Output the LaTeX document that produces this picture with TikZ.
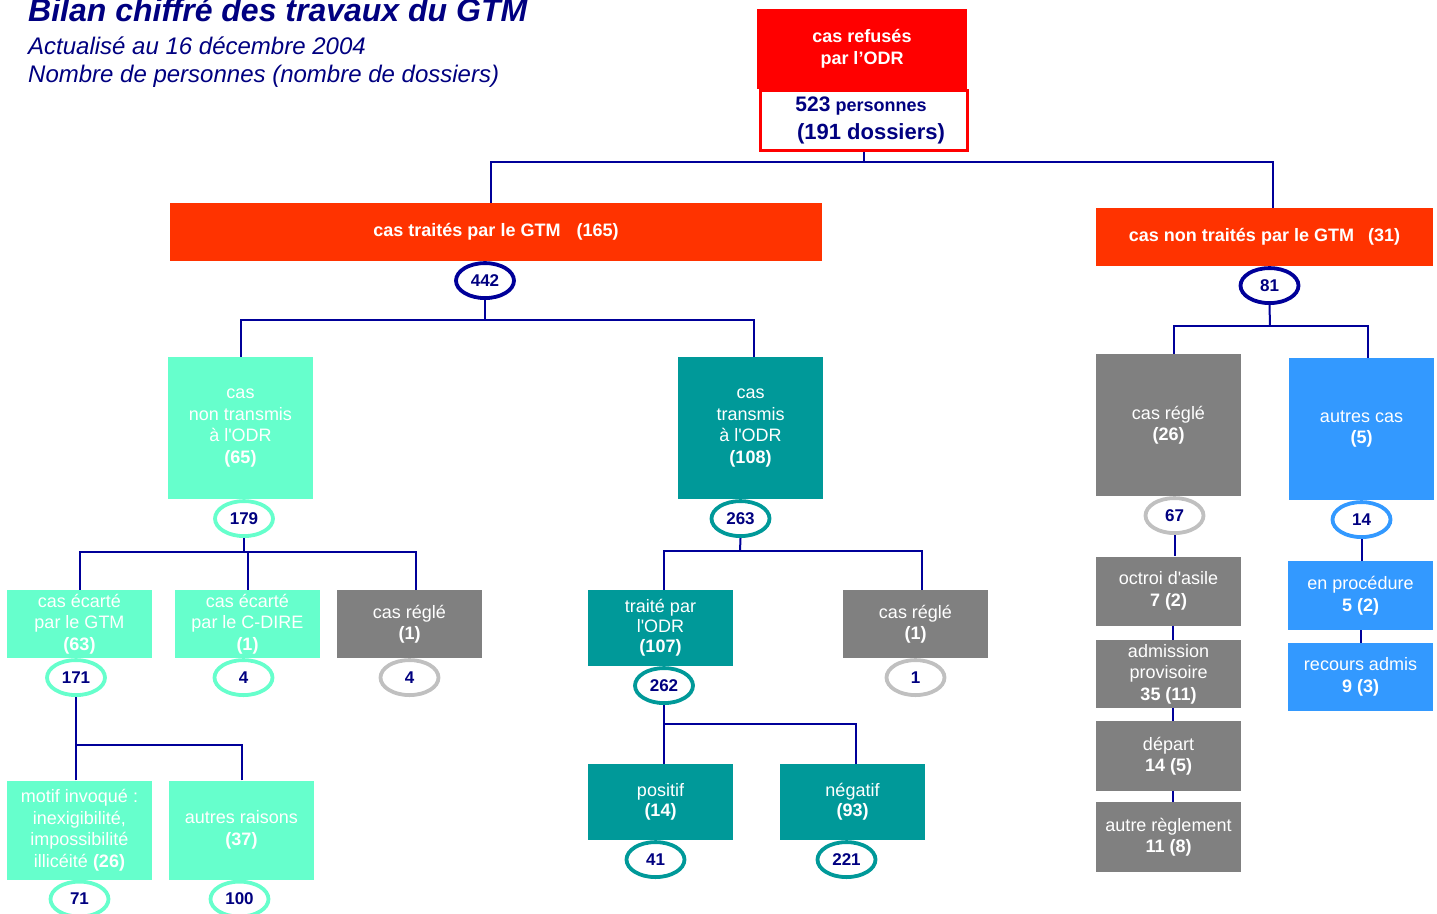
\documentclass[tikz,border=0pt]{standalone}
\usepackage{fontspec}
\setmainfont{Liberation Sans}
\usepackage{tikz}
\usetikzlibrary{positioning,shapes.geometric}

\definecolor{gtmnavy}{HTML}{000080}
\definecolor{gtmline}{HTML}{000099}
\definecolor{gtmred}{HTML}{FF0000}
\definecolor{gtmorange}{HTML}{FF3300}
\definecolor{gtmaqua}{HTML}{66FFCC}
\definecolor{gtmteal}{HTML}{009999}
\definecolor{gtmgrey}{HTML}{808080}
\definecolor{gtmsilver}{HTML}{C0C0C0}
\definecolor{gtmblue}{HTML}{3399FF}

\begin{document}
\begin{tikzpicture}[
    x=1pt, y=-1pt,
    gtmbox/.style={minimum width=145pt, minimum height=68pt, align=center, text=white, inner sep=2pt, font=\fontsize{18}{21.5}\selectfont},
    aquabox/.style={gtmbox, fill=gtmaqua},
    tealbox/.style={gtmbox, fill=gtmteal},
    greybox/.style={gtmbox, fill=gtmgrey},
    bluebox/.style={gtmbox, fill=gtmblue},
    headbox/.style={minimum height=58pt, text=white, fill=gtmorange, font=\bfseries\fontsize{18}{21.5}\selectfont},
    tally/.style={ellipse, draw, fill=white, line width=3.8pt, minimum width=58pt, minimum height=35pt, inner sep=0pt, text=gtmnavy, font=\bfseries\fontsize{17}{20}\selectfont, below=0pt of #1},
    link/.style={draw=gtmline, line width=2pt}
]
\useasboundingbox (0,0) rectangle (1437,913);

% Title
\node[anchor=base west, inner sep=0pt, text=gtmnavy, font=\bfseries\itshape\fontsize{32}{36}\selectfont] (title) at (28,21) {Bilan chiffré des travaux du GTM};
\node[anchor=base west, inner sep=0pt, text=gtmnavy, font=\itshape\fontsize{24}{28}\selectfont] (date) at (28,54) {Actualisé au 16 décembre 2004};
\node[anchor=base west, inner sep=0pt, text=gtmnavy, font=\itshape\fontsize{24}{28}\selectfont] (legend) at (28,82) {Nombre de personnes (nombre de dossiers)};

% Boxes
\node[fill=gtmred, minimum width=210pt, minimum height=80pt, align=center, text=white, font=\bfseries\fontsize{18}{22}\selectfont] (refus) at (862,49) {cas refusés\\par l’ODR};
\node[draw=gtmred, line width=3pt, fill=white, minimum width=207pt, minimum height=60pt, align=center, text=gtmnavy, font=\bfseries\fontsize{18}{28}\selectfont] (refusnum) at (864,120.5)
    {\hspace*{-6pt}{\fontsize{21}{24}\selectfont 523} personnes\\\hspace*{14pt}{\fontsize{22}{26}\selectfont (191 dossiers)}};

\node[headbox, minimum width=652pt] (traites) at (496,232) {cas traités par le GTM\hspace{16pt}(165)};
\node[headbox, minimum width=337pt] (nontraites) at (1264.5,237) {cas non traités par le GTM\hspace{14pt}(31)};

\node[aquabox, minimum height=142pt] (nontransmis) at (240.5,428) {cas\\non transmis\\à l\textquotesingle ODR\\\textbf{(65)}};
\node[tealbox, minimum height=142pt] (transmis) at (750.5,428) {cas\\transmis\\à l\textquotesingle ODR\\\textbf{(108)}};

\node[aquabox] (ecarteGTM) at (79.5,624) {cas écarté\\par le GTM\\\textbf{(63)}};
\node[aquabox] (ecarteCDIRE) at (247.5,624) {cas écarté\\par le C-DIRE\\\textbf{(1)}};
\node[greybox] (regleA) at (409.5,624) {cas réglé\\\textbf{(1)}};
\node[aquabox, minimum height=99pt] (motif) at (79.5,830) {motif invoqué :\\inexigibilité,\\impossibilité\\illicéité \textbf{(26)}};
\node[aquabox, minimum height=99pt] (autresraisons) at (241.5,830) {autres raisons\\\textbf{(37)}};

\node[tealbox, minimum height=76pt, font=\fontsize{18}{20}\selectfont] (traiteODR) at (660.5,628) {traité par\\l\textquotesingle ODR\\\textbf{(107)}};
\node[greybox] (regleB) at (915.5,624) {cas réglé\\\textbf{(1)}};
\node[tealbox, minimum height=76pt, font=\fontsize{18}{20}\selectfont] (positif) at (660.5,802) {positif\\\textbf{(14)}};
\node[tealbox, minimum height=76pt, font=\fontsize{18}{20}\selectfont] (negatif) at (852.5,802) {négatif\\\textbf{(93)}};

\node[greybox, minimum height=142pt] (regleC) at (1168.5,425) {cas réglé\\\textbf{(26)}};
\node[bluebox, minimum height=142pt] (autrescas) at (1361.5,429) {autres cas\\\textbf{(5)}};
\node[greybox, minimum height=69pt] (octroi) at (1168.5,591) {octroi d\textquotesingle asile\\\textbf{7 (2)}};
\node[greybox] (admission) at (1168.5,674) {admission\\provisoire\\\textbf{35 (11)}};
\node[greybox, minimum height=70pt] (depart) at (1168.5,756) {départ\\\textbf{14 (5)}};
\node[greybox, minimum height=70pt] (autrereg) at (1168.5,837) {autre règlement\\\textbf{11 (8)}};
\node[bluebox, minimum height=69pt] (procedure) at (1360.5,595.5) {en procédure\\\textbf{5 (2)}};
\node[bluebox] (recours) at (1360.5,677) {recours admis\\\textbf{9 (3)}};

% Counts
\node[tally=traites, xshift=-11pt, draw=gtmline] (n442) {442};
\node[tally=nontraites, xshift=5pt, draw=gtmline] (n81) {81};
\node[tally=nontransmis, xshift=3.5pt, draw=gtmaqua] (n179) {179};
\node[tally=transmis, xshift=-10pt, draw=gtmteal] (n263) {263};
\node[tally=ecarteGTM, xshift=-3.5pt, draw=gtmaqua] (n171) {171};
\node[tally=ecarteCDIRE, xshift=-4pt, draw=gtmaqua] (n4a) {4};
\node[tally=regleA, draw=gtmsilver] (n4b) {4};
\node[tally=motif, draw=gtmaqua] (n71) {71};
\node[tally=autresraisons, xshift=-2pt, draw=gtmaqua] (n100) {100};
\node[tally=traiteODR, xshift=3.5pt, draw=gtmteal] (n262) {262};
\node[tally=regleB, draw=gtmsilver] (n1) {1};
\node[tally=positif, xshift=-5pt, draw=gtmteal] (n41) {41};
\node[tally=negatif, xshift=-6pt, draw=gtmteal] (n221) {221};
\node[tally=regleC, xshift=6pt, draw=gtmsilver] (n67) {67};
\node[tally=autrescas, draw=gtmblue] (n14) {14};

% Lines
\coordinate (j0) at (864,162);
\coordinate (j1) at (485,320);
\coordinate (j2) at (244,552);
\coordinate (j3) at (76,745);
\coordinate (j4) at (740,551);
\coordinate (j5) at (664,724);
\coordinate (j6) at (1270,326);

\draw[link] (refusnum.south) -- (j0);
\draw[link] ([xshift=-5pt]traites.north) |- (j0);
\draw[link] ([xshift=8pt]nontraites.north) |- (j0);

\draw[link] (n442.south) -- (j1);
\draw[link] (nontransmis.north) |- (j1);
\draw[link] ([xshift=3.5pt]transmis.north) |- (j1);

\draw[link] (n179.south) -- (j2);
\draw[link] (ecarteGTM.north) |- (j2);
\draw[link] (ecarteCDIRE.north) |- (j2);
\draw[link] ([xshift=6.5pt]regleA.north) |- (j2);

\draw[link] (n171.south) -- (j3);
\draw[link] ([xshift=-3.5pt]motif.north) |- (j3);
\draw[link] (autresraisons.north) |- (j3);

\draw[link] (n263.south) -- (j4);
\draw[link] ([xshift=3.5pt]traiteODR.north) |- (j4);
\draw[link] ([xshift=6.5pt]regleB.north) |- (j4);

\draw[link] (n262.south) -- (j5);
\draw[link] ([xshift=3.5pt]positif.north) |- (j5);
\draw[link] ([xshift=3.5pt]negatif.north) |- (j5);

\draw[link] (n81.south) -- (j6);
\draw[link] ([xshift=5.5pt]regleC.north) |- (j6);
\draw[link] ([xshift=6.5pt]autrescas.north) |- (j6);

\draw[link] (n67.south) -- (n67.south |- octroi.north);
\draw[link] ([xshift=4pt]octroi.south) -- ([xshift=4pt]admission.north);
\draw[link] ([xshift=4pt]admission.south) -- ([xshift=4pt]depart.north);
\draw[link] ([xshift=4pt]depart.south) -- ([xshift=4pt]autrereg.north);
\draw[link] (n14.south) -- (n14.south |- procedure.north);
\draw[link] (procedure.south) -- (recours.north);

\end{tikzpicture}
\end{document}
